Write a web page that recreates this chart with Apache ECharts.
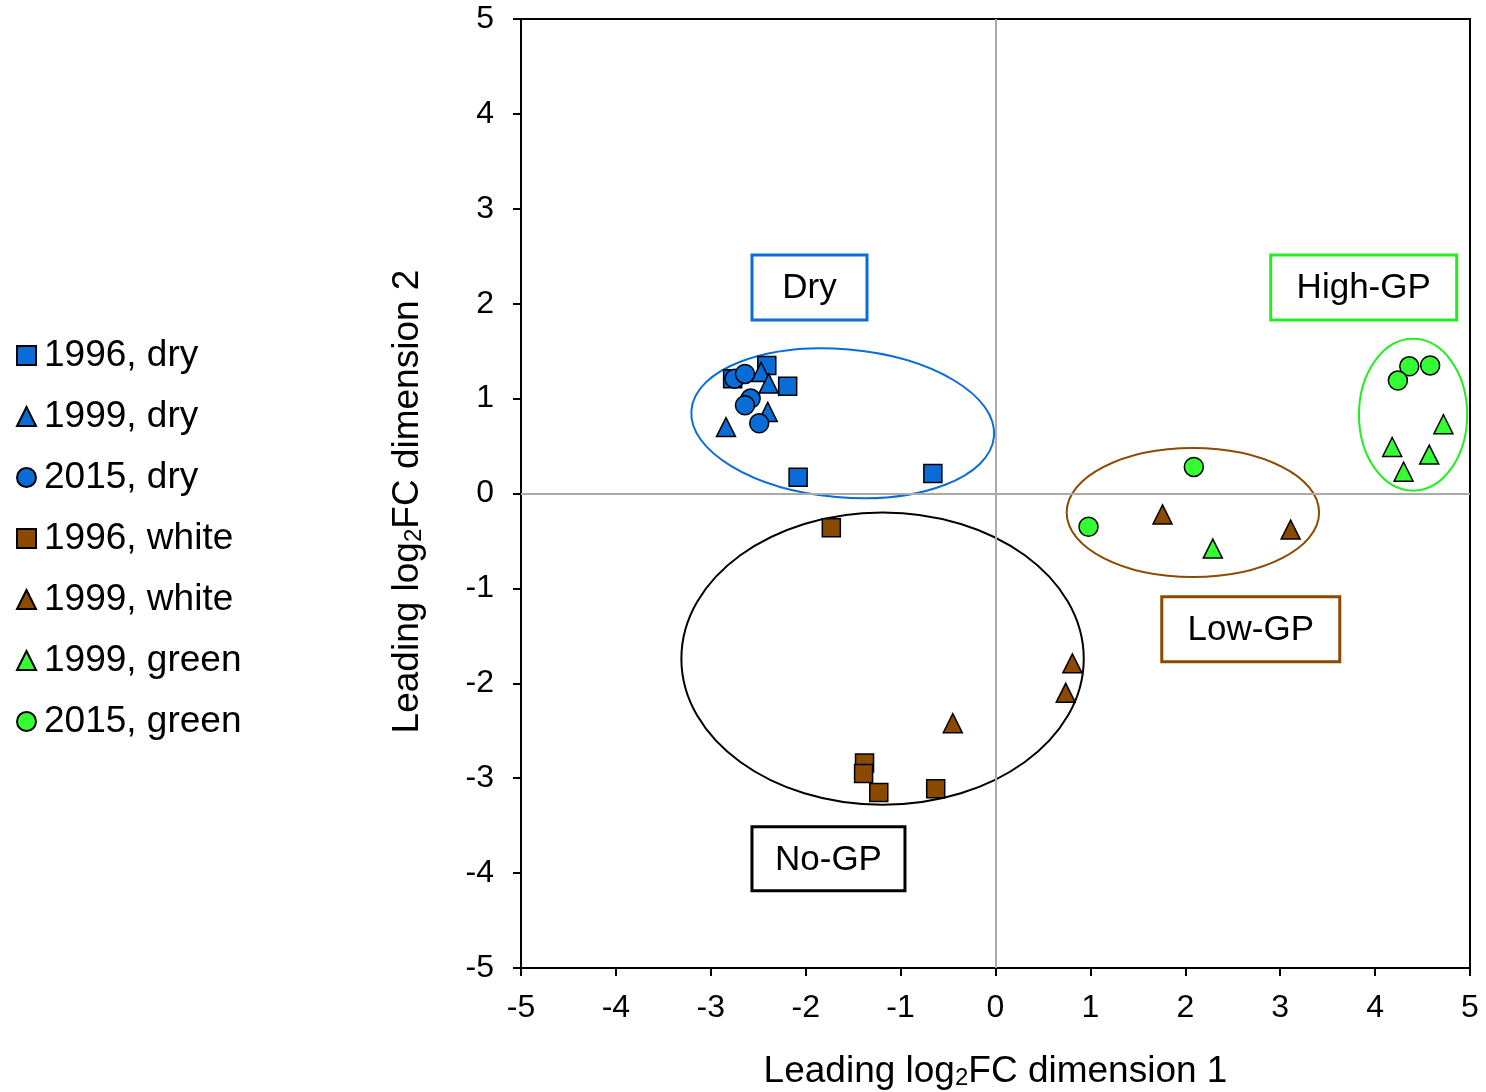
<!DOCTYPE html>
<html>
<head>
<meta charset="utf-8">
<title>Leading log2FC dimensions</title>
<script src="https://cdn.jsdelivr.net/npm/echarts@6/dist/echarts.min.js"></script>
<style>
  html, body { margin: 0; padding: 0; background: #fff; }
  #container { width: 1486px; height: 1092px; }
</style>
</head>
<body>
<div id="container"></div>
<script>
// points: [dim1, dim2]
var dry1996 = [[-2.77, 1.21], [-2.41, 1.35], [-2.19, 1.13], [-2.08, 0.17], [-0.66, 0.21]];
var dry1999 = [[-2.47, 1.28], [-2.39, 1.16], [-2.40, 0.86], [-2.84, 0.70]];
var dry2015 = [[-2.75, 1.21], [-2.64, 1.26], [-2.58, 1.00], [-2.64, 0.93], [-2.49, 0.74]];
var white1996 = [[-1.73, -0.36], [-1.38, -2.84], [-1.39, -2.95], [-1.23, -3.15], [-0.63, -3.11]];
var white1999 = [[-0.45, -2.42], [0.81, -1.79], [0.74, -2.10], [1.76, -0.22], [3.11, -0.38]];
var green1999 = [[2.29, -0.58], [4.72, 0.73], [4.18, 0.49], [4.57, 0.41], [4.30, 0.23]];
var green2015 = [[2.09, 0.28], [0.98, -0.35], [4.36, 1.34], [4.58, 1.35], [4.24, 1.19]];

var seriesNames = ['1996, dry', '1999, dry', '2015, dry', '1996, white', '1999, white', '1999, green', '2015, green'];
var axisTicks = [-5, -4, -3, -2, -1, 0, 1, 2, 3, 4, 5];

// group ellipses: [centre x, centre y, radius x, radius y, tilt deg]
var groupEllipses = [[-1.61, 0.74, 1.60, 0.78, 5], [-1.19, -1.74, 2.12, 1.54, 0], [2.08, -0.20, 1.33, 0.68, 0], [4.40, 0.83, 0.57, 0.80, 0]];
var groupNames = ['Dry', 'No-GP', 'Low-GP', 'High-GP'];
var groupLabelPos = [[-1.96, 2.17], [-1.76, -3.85], [2.69, -1.43], [3.88, 2.17]];

// label box sizes in px
var boxSizes = [[115, 65], [153, 64], [178, 65], [186, 65]];
var BLUE = '#0a6cd6', BROWN = '#8b4a00', GREEN = '#33ff33';
var groupColors = [BLUE, '#000000', BROWN, '#22ee22'];
var FONT = '"Liberation Sans", Arial, sans-serif';

var myChart = echarts.init(document.getElementById('container'));

function pts(name, data, symbol, size, color) {
    return {
        name: name,
        type: 'scatter',
        data: data,
        symbol: symbol,
        symbolSize: size,
        z: 5,
        itemStyle: { color: color, borderColor: '#000', borderWidth: 1.5, opacity: 1 }
    };
}

function axisOpts(name, gap, margin, namePad) {
    return {
        type: 'value',
        min: -5, max: 5, interval: 1,
        axisLine: { show: true, onZero: false, lineStyle: { color: '#000', width: 2 } },
        axisTick: { show: true, inside: false, length: 8, lineStyle: { color: '#000', width: 2 } },
        axisLabel: { color: '#000', fontSize: 32, fontFamily: FONT, margin: margin,
            formatter: function (v) { return axisTicks.indexOf(v) >= 0 ? String(v) : ''; } },
        splitLine: { show: false },
        name: name,
        nameLocation: 'middle',
        nameGap: gap,
        nameTextStyle: {
            color: '#000', fontSize: 37, fontFamily: FONT, padding: namePad,
            rich: { sub: { fontSize: 24, fontFamily: FONT, color: '#000', verticalAlign: 'bottom', lineHeight: 21 } }
        }
    };
}

var option = {
    backgroundColor: '#fff',
    animation: false,
    grid: {
        left: 521, top: 19, right: 16, bottom: 124,
        outerBoundsMode: 'none', containLabel: false,
        show: true, borderColor: '#000', borderWidth: 2
    },
    xAxis: axisOpts('Leading log{sub|2}FC dimension 1', 85, 24, 0),
    yAxis: axisOpts('Leading log{sub|2}FC dimension 2', 95, 27, [0, 16, 0, 0]),
    legend: {
        orient: 'vertical',
        left: 16, top: 337,
        itemWidth: 19, itemHeight: 19,
        itemGap: 24,
        padding: 0,
        data: seriesNames,
        textStyle: { color: '#000', fontSize: 37, fontFamily: FONT, lineHeight: 35, padding: [0, 0, 0, 3] }
    },
    series: [
        {
            // zero lines
            type: 'line',
            data: [],
            silent: true,
            markLine: {
                silent: true, symbol: 'none', label: { show: false },
                lineStyle: { color: '#aaaaaa', width: 2, type: 'solid' },
                data: [{ xAxis: 0 }, { yAxis: 0 }]
            },
            z: 1
        },
        {
            // group ellipses
            type: 'custom',
            silent: true,
            data: groupEllipses,
            z: 2,
            renderItem: function (params, api) {
                var c = api.coord([api.value(0), api.value(1)]);
                var s = api.size([api.value(2), api.value(3)]);
                return {
                    type: 'ellipse',
                    x: c[0], y: c[1],
                    rotation: -api.value(4) * Math.PI / 180,
                    shape: { cx: 0, cy: 0, rx: s[0], ry: s[1] },
                    style: { fill: null, stroke: groupColors[params.dataIndex], lineWidth: 2 }
                };
            }
        },
        {
            // group labels in boxes
            type: 'custom',
            silent: true,
            data: groupLabelPos,
            z: 3,
            renderItem: function (params, api) {
                var i = params.dataIndex;
                var c = api.coord([api.value(0), api.value(1)]);
                var w = boxSizes[i][0], h = boxSizes[i][1];
                return {
                    type: 'group',
                    x: c[0], y: c[1],
                    children: [{
                        type: 'rect',
                        shape: { x: -w / 2, y: -h / 2, width: w, height: h },
                        style: { fill: '#fff', stroke: groupColors[i], lineWidth: 3 }
                    }, {
                        type: 'text',
                        x: 0, y: 1,
                        style: {
                            text: groupNames[i], fill: '#000', font: '35px ' + FONT,
                            align: 'center', verticalAlign: 'middle'
                        }
                    }]
                };
            }
        },
        pts(seriesNames[0], dry1996, 'rect', 18, BLUE),
        pts(seriesNames[1], dry1999, 'triangle', 19, BLUE),
        pts(seriesNames[2], dry2015, 'circle', 19, BLUE),
        pts(seriesNames[3], white1996, 'rect', 18, BROWN),
        pts(seriesNames[4], white1999, 'triangle', 19, BROWN),
        pts(seriesNames[5], green1999, 'triangle', 19, GREEN),
        pts(seriesNames[6], green2015, 'circle', 19, GREEN)
    ]
};
myChart.setOption(option);
</script>
</body>
</html>
